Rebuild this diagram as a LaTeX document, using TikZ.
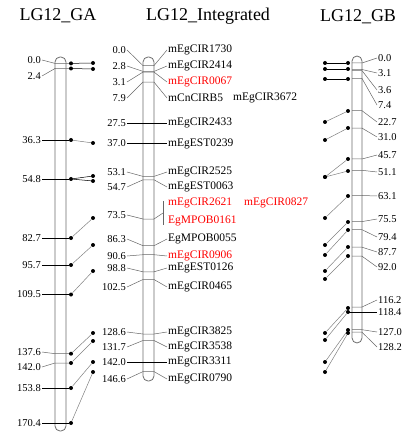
\documentclass[tikz,border=0pt]{standalone}
\usepackage{fontspec}
\setmainfont{Liberation Serif}
\usepackage{xcolor}
\usetikzlibrary{positioning}

\begin{document}
\begin{tikzpicture}[x=1pt,y=-1pt,
    chrom/.style={draw=gray!85!black, line width=0.8pt, rounded corners=5pt},
    lnk/.style={gray!80!black, line width=0.5pt},
    tk/.style={black, line width=0.9pt},
    cmlab/.style={font=\fontsize{10.5}{11}\selectfont, inner sep=1pt},
    mrk/.style={font=\fontsize{11.5}{12}\selectfont, inner sep=1pt},
    ttl/.style={font=\fontsize{18}{20}\selectfont},
    mdot/.style={circle, fill=black, inner sep=0pt, minimum size=4pt}]
    \useasboundingbox (0,0) rectangle (411,435);

    \node[ttl] (tGA) at (58,16) {LG12\_GA};
    \node[ttl] (tIN) at (208,16) {LG12\_Integrated};
    \node[ttl] (tGB) at (358,17) {LG12\_GB};

    \draw[chrom] (55,57) rectangle (66,431);
    \draw[chrom] (143,57) rectangle (154,381);
    \draw[chrom] (352,56) rectangle (362,343);

    % LG12_GA
    \foreach \cm/\ty/\ly/\ry/\lc [count=\k] in {0.0/63.4/60/63/black, 2.4/68.5/76/69/black,
        36.3/140/140/143/gray, 54.8/179/179/176/black, 82.7/238/238/218/gray,
        95.7/265/265/245/gray, 109.5/294.5/294.5/271/gray, 137.6/353.7/352/333/gray,
        142.0/363/367/341/gray, 153.8/388/388/362/gray, 170.4/423/423/372/gray} {
        \node[cmlab, anchor=east] (gaL\k) at (42,\ly) {\cm};
        \node[mdot] (ga\k) at (71,\ty) {};
        \node[mdot] (gx\k) at (93,\ry) {};
        \ifdim\ly pt=\ty pt
            \draw[tk] (gaL\k.east) -- (ga\k);
        \else
            \draw[lnk] (gaL\k.east) -- (55,\ty) -- (ga\k);
        \fi
        \draw[lnk, draw=\lc] (ga\k) -- (gx\k);
    }
    \node[mdot] (gx12) at (93,181) {};
    \draw[lnk, draw=black] (ga4) -- (gx12);

    % LG12_Integrated
    \foreach \cm/\ty/\ly/\nm/\clr [count=\k] in {0.0/65.6/50/mEgCIR1730/black,
        2.8/71.4/66/mEgCIR2414/black, 3.1/72.1/82/mEgCIR0067/red, 7.9/82.1/98/mCnCIRB5/black,
        27.5/123/123/mEgCIR2433/black, 37.0/143.5/143.5/mEgEST0239/black,
        53.1/176.4/172/mEgCIR2525/black, 54.7/179.8/187/mEgEST0063/black,
        86.3/245.7/239/EgMPOB0055/black, 90.6/254.7/256/mEgCIR0906/red,
        98.8/271.8/268/mEgEST0126/black, 102.5/279.5/287/mEgCIR0465/black,
        128.6/334/332/mEgCIR3825/black, 131.7/340.5/347/mEgCIR3538/black,
        142.0/362/362/mEgCIR3311/black, 146.6/371.6/379/mEgCIR0790/black} {
        \node[cmlab, anchor=east] (inL\k) at (127,\ly) {\cm};
        \node[mrk, anchor=west, text=\clr] (inN\k) at (167,\ly) {\nm};
        \ifdim\ly pt=\ty pt
            \draw[tk] (inL\k.east) -- (inN\k.west);
        \else
            \draw[lnk] (inL\k.east) -- (143,\ty) -- (154,\ty) -- (inN\k.west);
        \fi
    }
    \node[cmlab, anchor=east] (inL17) at (127,215) {73.5};
    \node[mrk, anchor=west, text=red] (inN17) at (167,203) {mEgCIR2621};
    \node[mrk, anchor=west, text=red] (inN18) at (167,221) {EgMPOB0161};
    \node[mrk, anchor=west] (inX1) at (232,98) {mEgCIR3672};
    \node[mrk, anchor=west, text=red] (inX2) at (243,203) {mEgCIR0827};
    \coordinate (brT) at (163,201);
    \coordinate (brB) at (163,225);
    \draw[lnk] (inL17.east) -- (143,219) -- (154,219) -- (163,213);
    \draw[lnk] (brT) -- (brB);

    % LG12_GB
    \foreach \cm/\ty/\ly [count=\k] in {0.0/63/58, 3.1/69.5/73, 3.6/70.6/90, 7.4/78.5/105,
        22.7/110.7/122, 31.0/128.1/137, 45.7/159/155, 51.1/170.3/172, 63.1/195.5/196,
        75.5/221.6/219, 79.4/229.7/237, 87.7/247.2/252, 92.0/256.2/267, 116.2/307/300,
        118.4/312/312, 127.0/329.7/332, 128.2/332.2/347} {
        \node[cmlab, anchor=west] (gbL\k) at (377,\ly) {\cm};
        \ifdim\ly pt=\ty pt
            \draw[tk] (348,\ty) -- (gbL\k.west);
        \else
            \draw[lnk] (352,\ty) -- (362,\ty) -- (gbL\k.west);
        \fi
    }
    \foreach \ry/\ly/\lc [count=\k] in {63/63/black, 69/69/black, 79/79/black,
        111/122/gray, 128/140/gray, 159/177/gray, 171/177/gray, 196/218/gray,
        222/245/gray, 230/255/gray, 247/271/gray, 256/279/gray, 308/333/gray,
        312/340/gray, 330/362/gray, 333/372/gray} {
        \node[mdot] (gb\k) at (348,\ry) {};
        \node[mdot] (gy\k) at (325,\ly) {};
        \draw[lnk, draw=\lc] (gb\k) -- (gy\k);
    }
\end{tikzpicture}
\end{document}
